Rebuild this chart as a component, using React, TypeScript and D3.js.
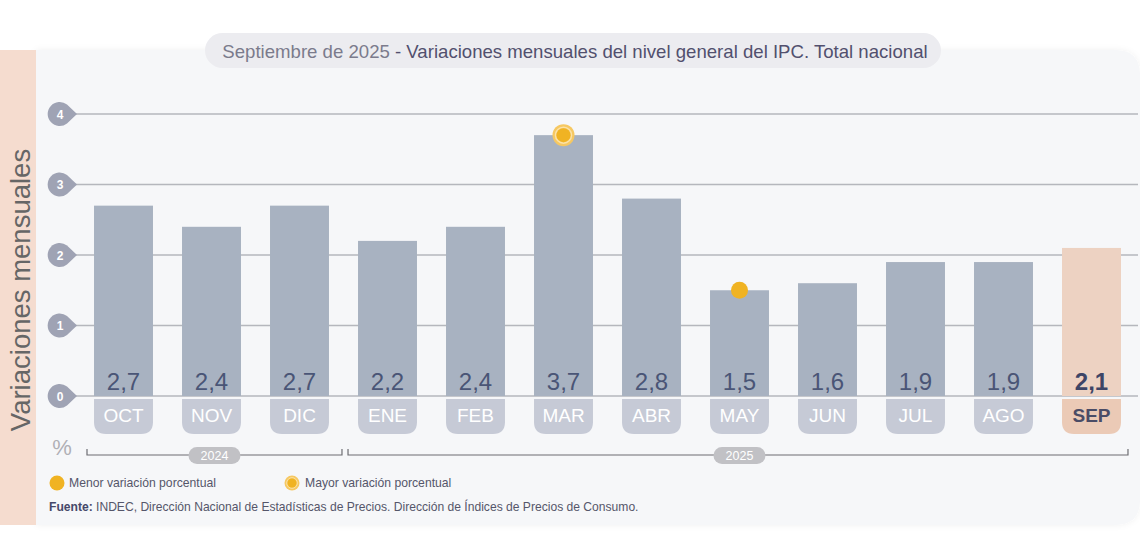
import React from 'react';
import * as d3 from 'd3';

const months = ['OCT', 'NOV', 'DIC', 'ENE', 'FEB', 'MAR', 'ABR', 'MAY', 'JUN', 'JUL', 'AGO', 'SEP'];
const values = [2.7, 2.4, 2.7, 2.2, 2.4, 3.7, 2.8, 1.5, 1.6, 1.9, 1.9, 2.1];
const yTicks = [0, 1, 2, 3, 4];
const years = [
  { label: '2024', from: 'OCT', to: 'DIC' },
  { label: '2025', from: 'ENE', to: 'SEP' },
];
const highest = 'MAR';
const lowest = 'MAY';
const current = 'SEP';

const W = 1140;
const H = 550;
const FONT = '"Liberation Sans Narrow", "Liberation Sans", Arial, sans-serif';
const ORANGE = '#f0b323';

export default function App() {
  const x = d3.scaleBand<string>().domain(months).range([79.5, 1135.5]).paddingInner(0.33).paddingOuter(0.165);
  const y = d3.scaleLinear().domain([0, 4]).range([396, 114]);
  const fmt = (v: number) => d3.format('.1f')(v).replace('.', ',');
  const bw = x.bandwidth();

  // teardrop tick marker pointing right
  const drop = (cy: number) => {
    const r = 12;
    return `M${60 + 17},${cy} L${60 + 7},${cy - 9.5} A${r},${r} 0 1 0 ${60 + 7},${cy + 9.5} Z`;
  };

  // tab with rounded bottom corners under each bar
  const tab = (x0: number, w: number, y0: number, h: number, r: number) =>
    `M${x0},${y0} H${x0 + w} V${y0 + h - r} Q${x0 + w},${y0 + h} ${x0 + w - r},${y0 + h} H${x0 + r} Q${x0},${y0 + h} ${x0},${y0 + h - r} Z`;

  return (
    <svg width={W} height={H} style={{ position: 'absolute', left: 0, top: 0, fontFamily: FONT }}>
      <defs>
        <filter id="soft" x="-5%" y="-5%" width="110%" height="110%">
          <feDropShadow dx="0" dy="0" stdDeviation="3" floodColor="#000" floodOpacity="0.06" />
        </filter>
      </defs>
      <rect width={W} height={H} fill="#fff" />
      {/* panel */}
      <path d="M36,50 H1115 Q1140,50 1140,75 V500 Q1140,525 1115,525 H36 Z" fill="#f6f7f9" filter="url(#soft)" />
      <rect x={0} y={50} width={36} height={475} fill="#f5dccf" />
      <text transform="translate(20,290) rotate(-90)" textAnchor="middle" dominantBaseline="central"
        fontSize={27.5} fill="#666" fontFamily={FONT}>Variaciones mensuales</text>

      {/* title pill */}
      <rect x={205} y={33} width={736} height={35} rx={17.5} fill="#ececf0" />
      <text x={575} y={51} textAnchor="middle" dominantBaseline="central" fontSize={18.6}>
        <tspan fill="#7b7b8c">Septiembre de 2025</tspan>
        <tspan fill="#52506e"> - Variaciones mensuales del nivel general del IPC. Total nacional</tspan>
      </text>

      {/* gridlines */}
      {yTicks.map(t => (
        <g key={t}>
          <line x1={70} x2={1138} y1={y(t)} y2={y(t)} stroke="#b5b7bd" strokeWidth={1.5} />
          <path d={drop(y(t))} fill="#9fa3b4" />
          <text x={60} y={y(t) + 0.5} textAnchor="middle" dominantBaseline="central" fontSize={12} fontWeight="bold" fill="#fff">{t}</text>
        </g>
      ))}

      {/* bars */}
      {months.map((m, i) => {
        const isCur = m === current;
        const x0 = x(m)!;
        return (
          <g key={m}>
            <rect x={x0} y={y(values[i])} width={bw} height={y(0) - y(values[i])} fill={isCur ? '#edd2c2' : '#a8b2c1'} />
            <text x={x0 + bw / 2} y={381} textAnchor="middle" dominantBaseline="central" fontSize={24}
              fontWeight={isCur ? 'bold' : 'normal'} fill={isCur ? '#3e4566' : '#4a5576'}>{fmt(values[i])}</text>
            <path d={tab(x0, bw, y(0) + 3, 35, 12)} fill={isCur ? '#ebcab6' : '#c6cad6'} />
            <text x={x0 + bw / 2} y={415} textAnchor="middle" dominantBaseline="central" fontSize={19}
              fontWeight={isCur ? 'bold' : 'normal'} fill={isCur ? '#4a4c66' : '#fff'}>{m}</text>
          </g>
        );
      })}

      {/* highest / lowest markers */}
      {months.map((m, i) => {
        const cx = x(m)! + bw / 2;
        if (m === highest) {
          return (
            <g key={m}>
              <circle cx={cx} cy={y(values[i])} r={11} fill="#f6c862" />
              <circle cx={cx} cy={y(values[i])} r={8} fill="none" stroke="#fbe2a8" strokeWidth={1.5} />
              <circle cx={cx} cy={y(values[i])} r={7} fill={ORANGE} />
            </g>
          );
        }
        if (m === lowest) {
          return <circle key={m} cx={cx} cy={y(values[i])} r={8.5} fill={ORANGE} />;
        }
        return null;
      })}

      <text x={62} y={447} textAnchor="middle" dominantBaseline="central" fontSize={22} fill="#b0b0b6">%</text>

      {/* year brackets */}
      {years.map((yr, i) => {
        const x1 = i === 0 ? 87 : x(yr.from)! - 10;
        const x2 = i === 0 ? x(yr.to)! + bw + 13 : x(yr.to)! + bw + 7;
        const cx = i === 0 ? (x1 + x2) / 2 : x('MAY')! + bw / 2;
        return (
          <g key={yr.label}>
            <path d={`M${x1},449 V455 H${x2} V449`} fill="none" stroke="#6d6d72" strokeWidth={1.2} />
            <rect x={cx - 26} y={447} width={52} height={17} rx={8.5} fill="#c1c1c5" />
            <text x={cx} y={456} textAnchor="middle" dominantBaseline="central" fontSize={12.5} fill="#fff">{yr.label}</text>
          </g>
        );
      })}

      {/* legend */}
      <circle cx={57} cy={483} r={7.5} fill={ORANGE} />
      <text x={69} y={483} dominantBaseline="central" fontSize={12.2} fill="#55566a">Menor variación porcentual</text>
      <circle cx={292} cy={483} r={7.5} fill="#f6c862" />
      <circle cx={292} cy={483} r={5.3} fill="none" stroke="#fbe2a8" strokeWidth={1} />
      <circle cx={292} cy={483} r={4.5} fill={ORANGE} />
      <text x={305} y={483} dominantBaseline="central" fontSize={12.2} fill="#55566a">Mayor variación porcentual</text>

      <text x={49} y={507} dominantBaseline="central" fontSize={12.1} fill="#55566a">
        <tspan fontWeight="bold" fill="#46496a">Fuente:</tspan> INDEC, Dirección Nacional de Estadísticas de Precios. Dirección de Índices de Precios de Consumo.
      </text>
    </svg>
  );
}
